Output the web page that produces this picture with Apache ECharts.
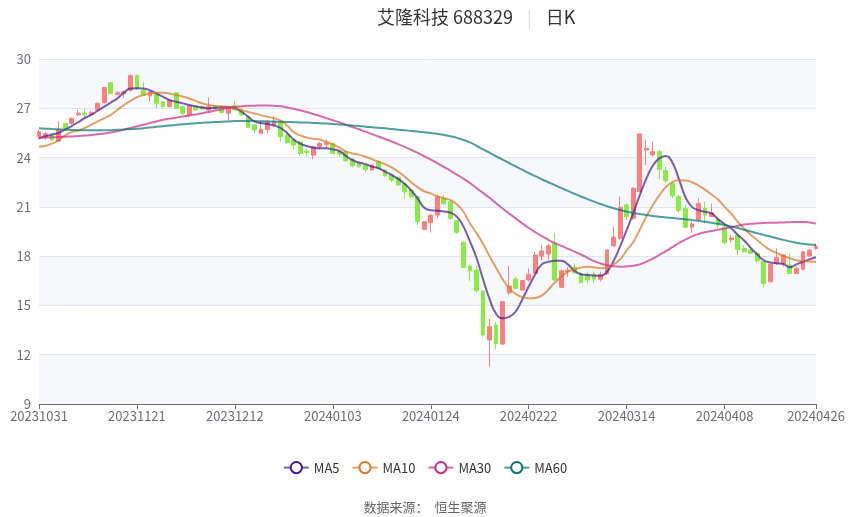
<!DOCTYPE html>
<html>
<head>
<meta charset="utf-8">
<script src="https://cdn.jsdelivr.net/npm/echarts/dist/echarts.min.js"></script>
<style>
html,body{margin:0;padding:0;background:#fff;}
#c{width:850px;height:517px;}
</style>
</head>
<body>
<div id="c"></div>
<script>
const dates = [
'20231031',
'20231101','20231102','20231103','20231106','20231107','20231108','20231109','20231110','20231113','20231114','20231115','20231116','20231117','20231120','20231121','20231122','20231123','20231124','20231127','20231128','20231129','20231130',
'20231201','20231204','20231205','20231206','20231207','20231208','20231211','20231212','20231213','20231214','20231215','20231218','20231219','20231220','20231221','20231222','20231225','20231226','20231227','20231228','20231229',
'20240102','20240103','20240104','20240105','20240108','20240109','20240110','20240111','20240112','20240115','20240116','20240117','20240118','20240119','20240122','20240123','20240124','20240125','20240126','20240129','20240130','20240131',
'20240201','20240202','20240205','20240206','20240207','20240208','20240219','20240220','20240221','20240222','20240223','20240226','20240227','20240228','20240229',
'20240301','20240304','20240305','20240306','20240307','20240308','20240311','20240312','20240313','20240314','20240315','20240318','20240319','20240320','20240321','20240322','20240325','20240326','20240327','20240328','20240329',
'20240401','20240402','20240403','20240408','20240409','20240410','20240411','20240412','20240415','20240416','20240417','20240418','20240419','20240422','20240423','20240424','20240425','20240426'
];

// [open, close, low, high]
const candles = [
[25.27,25.57,25.10,25.70],[25.30,25.45,25.07,25.57],[25.37,25.07,25.00,25.45],[25.00,25.70,24.95,26.20],[26.08,25.78,25.70,26.10],
[26.08,26.38,26.00,26.45],[26.60,26.70,26.50,26.90],[26.70,26.60,26.40,27.00],[26.62,26.75,26.55,26.85],[26.89,27.30,26.80,27.35],
[27.34,28.27,27.30,28.30],[28.55,27.90,27.85,28.60],[27.85,27.95,27.80,28.05],[27.90,28.00,27.65,28.10],[28.10,29.00,28.00,29.05],
[29.00,28.20,28.10,29.05],[28.10,27.80,27.75,28.60],[27.75,28.00,27.40,28.05],[27.90,27.30,27.00,27.95],[27.40,27.10,27.05,27.45],
[27.10,27.50,27.05,27.55],[27.95,27.00,26.95,28.00],[27.10,26.70,26.60,27.15],[26.60,27.15,26.45,27.20],[27.10,26.90,26.85,27.15],
[27.10,26.95,26.90,27.15],[26.90,27.10,26.70,27.65],[27.15,27.00,26.90,27.20],[27.10,26.75,26.70,27.15],[26.70,27.05,26.25,27.10],
[27.15,26.92,26.85,27.45],[26.85,26.60,26.55,27.00],[26.49,25.84,25.80,26.50],[25.98,25.68,25.50,26.05],[25.47,25.71,25.45,26.20],
[25.71,26.14,25.47,26.30],[26.00,26.20,25.88,26.50],[26.18,25.27,24.96,26.30],[25.37,24.90,24.85,25.50],[25.07,24.76,24.50,25.10],
[24.96,24.25,24.10,25.00],[24.40,24.30,24.05,24.55],[24.15,24.66,23.90,24.70],[24.66,24.86,24.50,24.95],[24.80,24.90,24.55,25.10],
[24.86,24.25,24.20,24.90],[24.35,24.20,24.05,24.40],[24.35,23.81,23.75,24.40],[23.91,23.49,23.40,23.95],[23.65,23.45,23.35,23.75],
[23.55,23.28,23.10,23.60],[23.24,23.55,23.20,23.60],[23.75,23.35,23.30,23.80],[23.24,22.88,22.85,23.30],[22.94,22.63,22.50,23.00],
[22.80,22.33,22.30,22.85],[22.39,21.92,21.50,22.45],[22.02,21.62,21.55,22.05],[21.62,20.10,19.90,21.65],[19.63,20.10,19.60,20.15],
[20.04,20.50,19.43,20.55],[20.50,21.62,20.30,21.70],[21.50,21.20,21.10,21.72],[21.31,20.30,20.20,21.40],[20.16,19.45,19.35,20.20],
[18.84,17.32,17.30,18.90],[17.40,17.11,16.50,17.45],[17.15,15.90,15.80,17.40],[15.88,13.20,13.10,15.90],[12.90,13.70,11.27,14.20],
[13.80,12.69,12.33,14.00],[12.65,15.23,12.60,15.25],[15.77,16.18,15.63,17.40],[16.61,16.04,16.00,16.75],[15.94,16.51,15.90,16.55],
[16.55,16.89,16.45,17.25],[16.95,18.07,16.90,18.27],[18.00,18.31,17.76,18.67],[18.13,18.63,17.76,18.77],[18.77,16.55,16.50,19.42],
[16.10,17.11,16.05,17.20],[17.05,17.15,16.75,17.32],[17.32,16.99,16.95,17.56],[16.95,16.40,16.35,17.00],[16.86,16.55,16.35,17.06],
[16.90,16.60,16.35,17.05],[16.60,16.90,16.45,17.06],[16.92,18.38,16.85,18.40],[18.62,19.15,18.58,19.80],[19.09,20.98,19.00,21.62],
[21.12,20.41,20.20,21.22],[20.31,22.13,20.20,22.20],[21.93,25.44,21.90,25.46],[24.46,24.56,23.55,25.07],[24.16,24.36,24.06,24.97],
[24.36,23.29,22.68,24.50],[23.21,22.60,22.44,23.45],[22.40,21.67,21.52,22.54],[21.62,20.77,20.65,21.73],[20.91,19.76,19.70,21.12],
[19.76,19.96,19.43,20.10],[20.24,21.21,20.10,21.52],[20.91,20.50,19.99,21.31],[20.40,20.64,20.40,21.21],[20.24,19.89,19.69,20.30],
[19.75,18.82,18.74,19.89],[19.00,19.10,18.82,19.30],[19.28,18.41,18.07,19.39],[18.47,18.27,18.21,18.67],[18.37,18.17,18.17,18.57],
[18.17,17.72,17.60,18.27],[17.66,16.34,16.10,17.66],[16.44,17.52,16.40,17.55],[17.56,17.92,17.46,18.47],[17.56,18.07,17.36,18.10],
[17.46,16.95,16.91,18.17],[16.95,17.26,16.91,17.36],[17.20,18.27,17.15,18.30],[18.01,18.37,17.97,18.41],[18.47,18.61,18.37,18.77]
];

const ma5 = [
25.17,25.30,25.40,25.50,25.70,25.92,26.15,26.40,26.60,26.85,
27.10,27.35,27.60,27.95,28.20,28.22,28.20,28.10,27.90,27.70,
27.50,27.40,27.30,27.20,27.12,27.05,27.00,27.02,27.06,27.08,
27.00,26.80,26.50,26.20,26.10,26.04,25.95,25.80,25.50,25.10,
24.85,24.70,24.60,24.56,24.56,24.50,24.40,24.10,23.85,23.70,
23.60,23.45,23.35,23.15,22.95,22.70,22.40,22.00,21.50,20.95,
20.80,20.77,20.72,20.65,20.40,19.80,18.90,17.90,16.60,15.40,
14.50,14.22,14.30,14.62,15.35,16.15,16.90,17.50,17.65,17.72,
17.72,17.50,17.10,16.90,16.85,16.82,16.80,17.05,17.70,18.60,
19.59,20.60,21.70,22.70,23.50,23.95,24.10,23.70,22.70,21.60,
21.00,20.80,20.70,20.60,20.25,19.95,19.70,19.30,18.95,18.50,
18.10,17.75,17.62,17.56,17.52,17.32,17.50,17.65,17.80,17.93
];
const ma10 = [
24.66,24.72,24.85,25.05,25.35,25.55,25.65,25.80,26.00,26.20,
26.40,26.60,26.90,27.20,27.45,27.67,27.80,27.91,27.95,27.95,
27.90,27.80,27.72,27.60,27.45,27.30,27.20,27.14,27.12,27.10,
27.02,26.90,26.78,26.68,26.58,26.48,26.40,26.25,25.95,25.55,
25.35,25.22,25.15,25.10,24.95,24.80,24.60,24.38,24.25,24.18,
24.05,23.90,23.75,23.60,23.40,23.15,22.85,22.50,22.20,21.95,
21.82,21.65,21.52,21.42,21.15,20.70,20.00,19.40,18.75,18.00,
17.30,16.60,16.05,15.70,15.50,15.43,15.45,15.60,15.95,16.40,
16.75,17.05,17.20,17.30,17.36,17.32,17.26,17.30,17.50,17.80,
18.35,18.85,19.60,20.40,21.10,21.70,22.20,22.50,22.62,22.60,
22.50,22.30,22.05,21.75,21.45,21.00,20.60,20.10,19.69,19.30,
18.98,18.65,18.37,18.20,18.01,17.88,17.75,17.70,17.67,17.66
];
const ma30 = [
25.21,25.22,25.23,25.25,25.27,25.29,25.31,25.34,25.38,25.42,
25.47,25.53,25.60,25.70,25.80,25.90,26.00,26.10,26.20,26.30,
26.37,26.43,26.50,26.56,26.62,26.70,26.78,26.86,26.94,27.02,
27.08,27.12,27.15,27.16,27.17,27.17,27.16,27.12,27.05,26.97,
26.88,26.77,26.65,26.53,26.40,26.27,26.14,26.00,25.86,25.72,
25.58,25.43,25.28,25.13,24.98,24.82,24.65,24.47,24.28,24.08,
23.88,23.66,23.43,23.20,22.96,22.72,22.45,22.15,21.85,21.55,
21.22,20.90,20.60,20.30,20.00,19.72,19.46,19.22,19.00,18.80,
18.62,18.45,18.28,18.10,17.90,17.70,17.55,17.45,17.38,17.36,
17.38,17.42,17.50,17.65,17.85,18.07,18.30,18.55,18.80,19.00,
19.20,19.35,19.45,19.53,19.60,19.68,19.76,19.84,19.92,19.97,
20.00,20.02,20.03,20.04,20.05,20.07,20.08,20.08,20.05,19.98
];
const ma60 = [
25.78,25.76,25.74,25.72,25.70,25.68,25.67,25.66,25.66,25.66,
25.66,25.67,25.69,25.71,25.73,25.75,25.79,25.83,25.87,25.91,
25.95,25.99,26.03,26.06,26.09,26.12,26.14,26.16,26.18,26.20,
26.22,26.22,26.22,26.22,26.21,26.20,26.19,26.18,26.17,26.15,
26.14,26.13,26.11,26.09,26.07,26.05,26.02,25.99,25.95,25.92,
25.88,25.85,25.81,25.78,25.74,25.70,25.66,25.62,25.58,25.54,
25.50,25.45,25.38,25.30,25.20,25.07,24.92,24.72,24.50,24.30,
24.08,23.88,23.67,23.46,23.26,23.06,22.87,22.68,22.50,22.32,
22.14,21.97,21.80,21.63,21.47,21.32,21.17,21.04,20.92,20.81,
20.71,20.63,20.56,20.50,20.45,20.40,20.36,20.32,20.28,20.24,
20.20,20.15,20.09,20.03,19.97,19.89,19.81,19.71,19.61,19.50,
19.39,19.29,19.19,19.09,18.99,18.90,18.82,18.76,18.71,18.68
];

const maNames = ['MA5','MA10','MA30','MA60'];
const maColors = ['#451896','#DC7724','#CB2B8B','#077575'];
const maData = [ma5, ma10, ma30, ma60];

const showIdx = (idx) => idx % 15 === 0 || idx === dates.length - 1;

const chart = echarts.init(document.getElementById('c'));
const option = {
  animation: false,
  textStyle: { fontFamily: '"Noto Sans CJK SC","Noto Sans",sans-serif' },
  title: [
    {
      text: '艾隆科技 688329{s||}日K',
      left: 372,
      top: 3,
      textStyle: {
        fontSize: 18, fontWeight: 'normal', color: '#333',
        rich: { s: { fontSize: 18, color: '#dcdcdc', padding: [0, 14, 0, 14] } }
      }
    },
    {
      text: '数据来源：  恒生聚源',
      left: 'center',
      top: 496,
      textStyle: { fontSize: 13, fontWeight: 'normal', color: '#666' }
    }
  ],
  legend: {
    data: maNames,
    left: 'center',
    top: 456,
    itemWidth: 25,
    itemHeight: 14,
    itemGap: 12,
    textStyle: { fontSize: 13, color: '#333' }
  },
  grid: { left: 39, right: 34, top: 59, bottom: 113 },
  xAxis: {
    type: 'category',
    data: dates,
    boundaryGap: false,
    axisLine: { lineStyle: { color: '#6E7079' } },
    axisTick: { interval: showIdx },
    axisLabel: { interval: showIdx, fontSize: 13, color: '#6E7079', margin: 6 },
    splitLine: { show: false }
  },
  yAxis: {
    type: 'value',
    min: 9,
    max: 30,
    interval: 3,
    axisLine: { show: false },
    axisTick: { show: false },
    axisLabel: { fontSize: 13, color: '#6E7079' },
    splitLine: { lineStyle: { color: '#E0E6F1' } },
    splitArea: { show: true, areaStyle: { color: ['rgba(210,219,238,0.2)', 'rgba(250,250,250,0.2)'] } }
  },
  series: [
    {
      name: '日K',
      type: 'candlestick',
      data: candles,
      barWidth: 4.3,
      itemStyle: {
        color: '#FF7F7F', color0: '#88EC44',
        borderColor: '#FF7F7F', borderColor0: '#88EC44', borderWidth: 1
      }
    }
  ].concat(maNames.map((n, k) => ({
    name: n,
    type: 'line',
    data: maData[k],
    smooth: true,
    showSymbol: false,
    symbol: 'emptyCircle',
    symbolSize: 8,
    color: maColors[k],
    itemStyle: { color: maColors[k] },
    lineStyle: { width: 2, opacity: 0.7, color: maColors[k] }
  })))
};
chart.setOption(option);
</script>
</body>
</html>
